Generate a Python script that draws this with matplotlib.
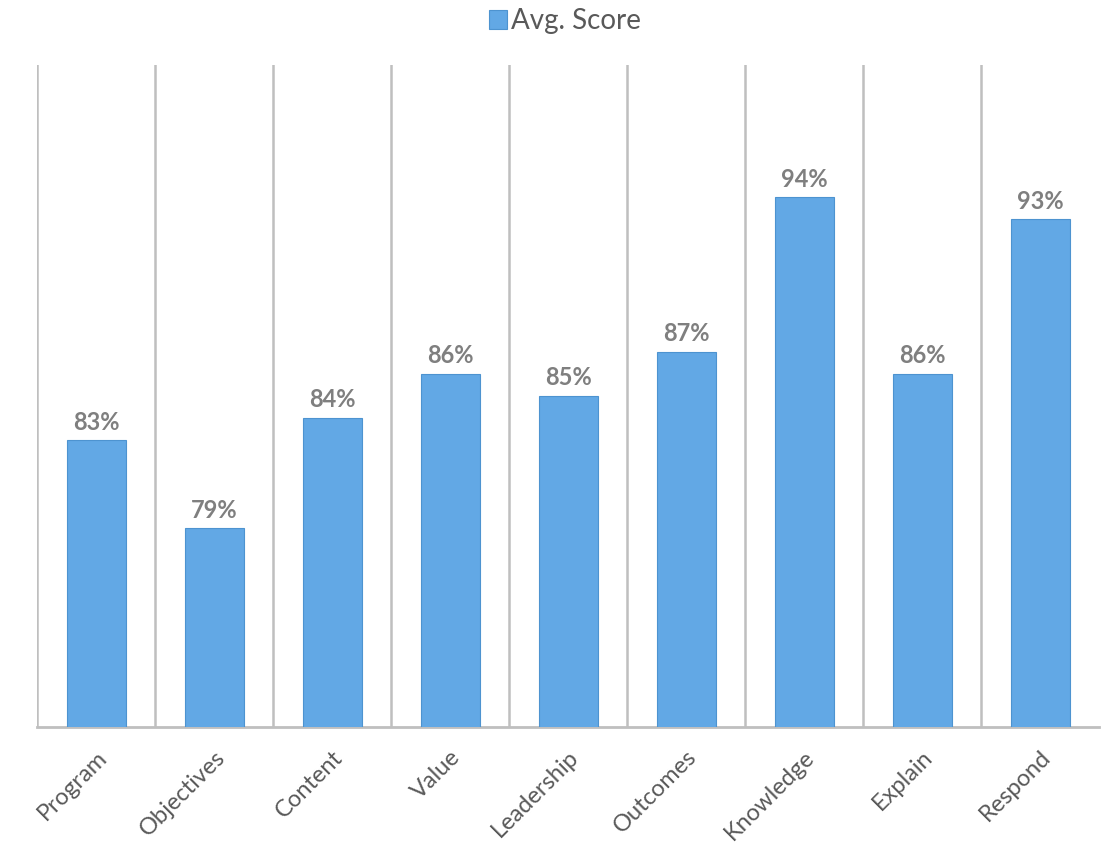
import matplotlib.pyplot as plt
import numpy as np

categories = ["Program", "Objectives", "Content", "Value", "Leadership",
              "Outcomes", "Knowledge", "Explain", "Respond"]
scores = [83, 79, 84, 86, 85, 87, 94, 86, 93]
series_name = "Avg. Score"

plt.rcParams['font.family'] = ['Lato', 'DejaVu Sans']

fig = plt.figure(figsize=(11.07, 8.55), dpi=100)
ax = fig.add_axes([37/1107, 1-727/855, (1099-37)/1107, 662/855])

x = np.arange(len(categories))
bars = ax.bar(x, scores, width=0.5, color='#62a8e5', edgecolor='#4d93d0',
              linewidth=0.8, label=series_name, zorder=3)

ax.set_xlim(-0.5, len(categories) - 0.5)
ax.set_ylim(70, 100)

for xi in x:
    ax.axvline(xi - 0.5, color='#bfbfbf', lw=1.8, zorder=1)

for xi, v in zip(x, scores):
    ax.text(xi, v + 0.3, f"{v}%", ha='center', va='bottom', fontsize=17,
            fontweight='bold', color='#7f7f7f')

ax.set_xticks(x)
ax.set_xticklabels(categories, rotation=45, ha='right', rotation_mode='anchor',
                   fontsize=17, color='#595959')
ax.tick_params(axis='x', length=0, pad=14)
ax.set_yticks([])
for s in ['top', 'right', 'left']:
    ax.spines[s].set_visible(False)
ax.spines['bottom'].set_color('#bfbfbf')
ax.spines['bottom'].set_linewidth(2)

leg = fig.legend(handles=[bars], labels=[series_name], loc='center',
                 bbox_to_anchor=(565/1107, 1-21/855), frameon=False,
                 fontsize=20, handlelength=0.65, handleheight=0.65,
                 handletextpad=0.15, labelcolor='#595959')

fig.savefig('out.png', dpi=100)
